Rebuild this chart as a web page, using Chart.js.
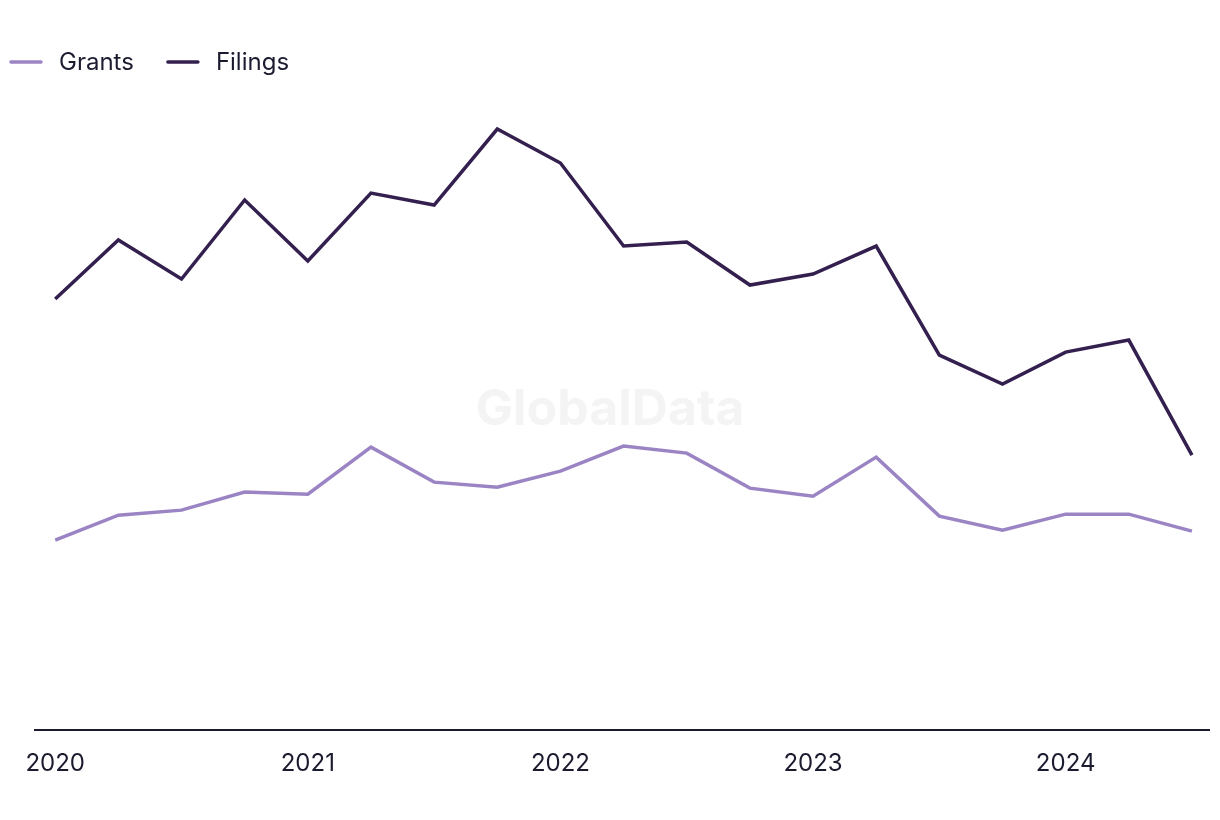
<!DOCTYPE html>
<html>
<head>
<meta charset="utf-8">
<script src="https://cdn.jsdelivr.net/npm/chart.js@4/dist/chart.umd.min.js"></script>
<style>
  html, body { margin: 0; padding: 0; background: #fff; }
  #wrap { width: 1220px; height: 820px; position: relative; }
</style>
</head>
<body>
<div id="wrap"><canvas id="myChart"></canvas></div>
<script>
  // quarters, Q1 2020 .. Q3 2024
  const quarters = ['Q1 2020','Q2 2020','Q3 2020','Q4 2020','Q1 2021','Q2 2021','Q3 2021','Q4 2021',
    'Q1 2022','Q2 2022','Q3 2022','Q4 2022','Q1 2023','Q2 2023','Q3 2023','Q4 2023',
    'Q1 2024','Q2 2024','Q3 2024'];
  const yearLabels = ['2020', '2021', '2022', '2023', '2024']; // shown on every 4th quarter

  const grants  = [190, 215, 220, 238, 236, 283, 248, 243, 259, 284, 277, 242, 234, 273, 214, 200, 216, 216, 199];
  const filings = [431, 490, 451, 530, 469, 537, 525, 601, 567, 484, 488, 445, 456, 484, 375, 346, 378, 390, 275];

  const textColor = '#1b1b2f';
  const fontFam = 'Inter, "Liberation Sans", sans-serif';

  // faint watermark behind the lines
  const watermark = {
    id: 'watermark',
    beforeDatasetsDraw(chart) {
      const ctx = chart.ctx;
      ctx.save();
      ctx.font = 'bold 50px ' + fontFam;
      ctx.fillStyle = '#f4f4f4';
      ctx.textAlign = 'center';
      ctx.textBaseline = 'middle';
      ctx.fillText('GlobalData', chart.width / 2, 410);
      ctx.restore();
    }
  };

  // legend: short line + name, drawn at the top left
  const lineLegend = {
    id: 'lineLegend',
    afterDraw(chart) {
      const ctx = chart.ctx;
      const y = 62;
      let x = 10;
      ctx.save();
      ctx.font = '24px ' + fontFam;
      ctx.textBaseline = 'middle';
      chart.data.datasets.forEach(ds => {
        ctx.strokeStyle = ds.borderColor;
        ctx.lineWidth = 3.5;
        ctx.lineCap = 'round';
        ctx.beginPath();
        ctx.moveTo(x + 1, y);
        ctx.lineTo(x + 31, y);
        ctx.stroke();
        ctx.fillStyle = textColor;
        ctx.fillText(ds.label, x + 49, y + 1);
        x += 49 + ctx.measureText(ds.label).width + 33;
      });
      ctx.restore();
    }
  };

  function toPoints(arr) {
    return arr.map((v, i) => ({ x: i, y: v }));
  }

  const ctx = document.getElementById('myChart').getContext('2d');
  const chart = new Chart(ctx, {
    type: 'line',
    data: {
      datasets: [{
        label: 'Grants',
        data: toPoints(grants),
        borderColor: '#9a84c4',
        backgroundColor: '#9a84c4',
        borderWidth: 3.5,
        pointRadius: 0,
        tension: 0
      }, {
        label: 'Filings',
        data: toPoints(filings),
        borderColor: '#34204f',
        backgroundColor: '#34204f',
        borderWidth: 3.5,
        pointRadius: 0,
        tension: 0
      }]
    },
    options: {
      responsive: true,
      maintainAspectRatio: false,
      animation: false,
      layout: { padding: { top: 100, right: 11, bottom: 31, left: 0 } },
      plugins: {
        legend: { display: false },
        tooltip: { enabled: false }
      },
      scales: {
        x: {
          type: 'linear',
          min: -0.32,
          max: 18.27,
          afterBuildTicks: s => { s.ticks = yearLabels.map((_, i) => ({ value: i * 4 })); },
          ticks: {
            autoSkip: false,
            maxRotation: 0,
            padding: 11,
            color: textColor,
            font: { family: fontFam, size: 24 },
            callback: (v) => yearLabels[v / 4]
          },
          grid: { display: false },
          border: { display: true, color: textColor, width: 2 }
        },
        y: {
          min: 0,
          max: 630,
          afterFit: s => { s.width = 35; },
          ticks: { display: false },
          grid: { display: false },
          border: { display: false }
        }
      }
    },
    plugins: [watermark, lineLegend]
  });
</script>
</body>
</html>
